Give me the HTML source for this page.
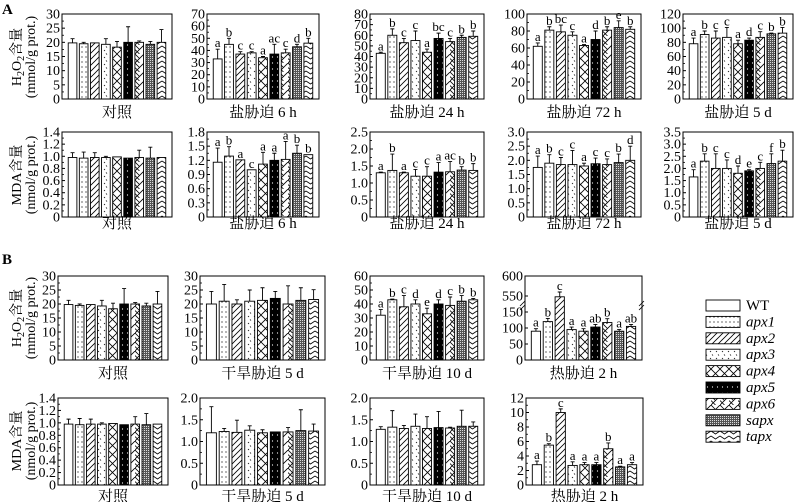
<!DOCTYPE html>
<html><head><meta charset="utf-8">
<style>
html,body{margin:0;padding:0;background:#fff;}
svg{display:block;}
svg text{font-family:"Liberation Serif","Times New Roman","Noto Serif CJK SC",serif;}
</style></head>
<body>
<svg id="fig" width="800" height="502" viewBox="0 0 800 502" xmlns="http://www.w3.org/2000/svg">
<defs>
<pattern id="p1" width="4" height="5" patternUnits="userSpaceOnUse"><rect width="4" height="5" fill="#fff"/><circle cx="2" cy="2" r="0.6" fill="#000"/></pattern>
<pattern id="p2" width="6" height="6" patternUnits="userSpaceOnUse"><rect width="6" height="6" fill="#fff"/><path d="M0,6 L6,0 M-1,1 L1,-1 M5,7 L7,5" stroke="#000" stroke-width="0.8"/></pattern>
<pattern id="p3" width="6" height="7" patternUnits="userSpaceOnUse"><rect width="6" height="7" fill="#fff"/><path d="M2,1 l1,1 M4,4.5 l1,1" stroke="#000" stroke-width="0.8"/></pattern>
<pattern id="p4" width="9" height="9" patternUnits="userSpaceOnUse"><rect width="9" height="9" fill="#fff"/><path d="M0,0 L9,9 M9,0 L0,9" stroke="#000" stroke-width="0.8"/></pattern>
<pattern id="p5" width="5" height="6" patternUnits="userSpaceOnUse"><rect width="5" height="6" fill="#000"/><circle cx="2.5" cy="3" r="0.6" fill="#fff"/></pattern>
<pattern id="p6" width="9" height="9" patternUnits="userSpaceOnUse"><rect width="9" height="9" fill="#fff"/><path d="M0,9 L9,0 M0,0 L4.5,4.5 M0,4.5 L4.5,9" stroke="#000" stroke-width="0.8"/></pattern>
<pattern id="p7" width="2" height="2" patternUnits="userSpaceOnUse"><rect width="2" height="2" fill="#555"/><rect width="1" height="1" fill="#ddd"/></pattern>
<pattern id="p8" width="9" height="5" patternUnits="userSpaceOnUse"><rect width="9" height="5" fill="#fff"/><path d="M0,1 L4.5,4 L9,1" stroke="#000" stroke-width="0.8" fill="none"/></pattern>
</defs>
<text x="2" y="14" font-size="15" font-weight="bold">A</text>
<text x="2" y="264" font-size="15" font-weight="bold">B</text>
<g id="charts"></g>
<g id="legend"></g>
</svg>
<script>
// ---- data ----
const genotypes = ["WT","apx1","apx2","apx3","apx4","apx5","apx6","sapx","tapx"];
const h2o2Ctrl = [19.8,19.5,19.8,19.3,18.3,20,20,19.3,20];
const h2o2CtrlErr = [1.5,0.5,0,2,2,5.5,0.5,1,4.5];
const salt6hH = [33,45,37,38,34,37,38,43,46];
const salt6hHErr = [8,5,2,1,1,8,3,2,4];
const salt6hHSig = ["a","b","c","c","a","ac","c","d","b"];
const salt24hH = [43,60,53,55,44,57,54,58,59];
const salt24hHErr = [1,6,4,9,3,5,3,2,5];
const salt24hHSig = ["a","b","c","c","a","bc","c","b","b"];
const salt72hH = [62,81,79,75,63,70,81,84,82];
const salt72hHErr = [4,4,8,4,1,10,4,8,3];
const salt72hHSig = ["a","b","bc","c","a","d","b","e","b"];
const salt5dH = [78,91,86,87,78,83,87,92,93];
const salt5dHErr = [8,5,10,14,5,3,8,1,8];
const salt5dHSig = ["a","b","c","c","a","d","c","b","b"];
const mdaCtrl = [0.98,0.97,0.98,0.98,0.99,0.97,0.98,0.97,0.98];
const mdaCtrlErr = [0.08,0.1,0.08,0.02,0,0,0.12,0.18,0];
const salt6hM = [1.16,1.29,1.21,1.0,1.12,1.2,1.22,1.35,1.32];
const salt6hMErr = [0.3,0.2,0,0,0.25,0.15,0.38,0.17,0];
const salt6hMSig = ["a","b","a","c","a","a","a","b","b"];
const salt24hM = [1.3,1.37,1.3,1.2,1.2,1.32,1.33,1.38,1.37];
const salt24hMErr = [0.02,0.48,0.02,0.2,0.28,0.28,0.3,0.1,0.2];
const salt24hMSig = ["a","b","a","c","c","a","ac","b","b"];
const salt72hM = [1.75,1.9,1.85,1.85,1.8,1.88,1.85,1.92,2.0];
const salt72hMErr = [0.4,0.3,0.25,0.5,0.1,0.2,0.2,0.3,0.5];
const salt72hMSig = ["a","b","c","c","a","c","c","b","d"];
const salt5dM = [1.65,2.3,2.0,2.0,1.8,1.9,2.0,2.2,2.3];
const salt5dMErr = [0.3,0.3,0.6,0.35,0.3,0.05,0.25,0.4,0.45];
const salt5dMSig = ["a","b","c","c","d","e","c","f","b"];
const dry5dH = [20,21,20,21,21.3,22,20,21.3,21.6];
const dry5dHErr = [4.5,6,1.5,4,4.5,2.5,6.5,4.5,3.5];
const dry10dH = [32,43,38,40,33,40,39,42,43];
const dry10dHErr = [4,0.5,8,3,4,3,6,4,1];
const dry10dHSig = ["a","b","c","d","e","d","c","b","b"];
const heatH = [90,120,530,95,90,103,117,90,105];
const heatHErr = [8,10,30,8,8,8,12,5,6];
const heatHSig = ["a","b","c","a","a","ab","b","a","ab"];
const dry5dM = [1.2,1.23,1.21,1.26,1.2,1.22,1.22,1.25,1.24];
const dry5dMErr = [0.6,0.07,0.28,0.1,0.07,0,0.1,0.48,0.16];
const dry10dM = [1.28,1.33,1.3,1.35,1.3,1.32,1.31,1.35,1.35];
const dry10dMErr = [0.06,0.38,0.07,0.28,0.27,0.37,0.02,0.37,0.1];
const heatM = [2.8,5.5,10,2.7,2.8,2.8,5.0,2.5,2.8];
const heatMErr = [0.5,0.2,0.5,0.5,0.3,0.3,0.8,0.1,0.3];
const heatMSig = ["a","b","c","a","a","a","b","a","a"];
const heatLowTicks = [0,50,100,150];
const heatHighTicks = [550,600];

const NS = "http://www.w3.org/2000/svg";
const root = document.getElementById("charts");
const fills = ["#fff","url(#p1)","url(#p2)","url(#p3)","url(#p4)","url(#p5)","url(#p6)","url(#p7)","url(#p8)"];
function mk(tag, attrs, parent){ const e=document.createElementNS(NS,tag); for(const k in attrs) e.setAttribute(k,attrs[k]); (parent||root).appendChild(e); return e; }

function panel(id, x0, x1, y0, y1, max, step, dec, vals, errs, sigs, title, ty, scaleFn, tickList){
  const g = mk("g", {});
  
  
  const y = scaleFn || (v => y1 - v / max * (y1 - y0));
  let ticks = tickList;
  if(!ticks){ ticks=[]; for(let v=0; v<=max+1e-9; v+=step) ticks.push(v); }
  ticks.forEach(v=>{
    const yy = y(v);
    mk("line",{x1:x0,x2:x0+3,y1:yy,y2:yy,stroke:"#000","stroke-width":1},g);
    const t = mk("text",{x:x0-2,y:yy+4.5,"text-anchor":"end","font-size":14},g);
    t.textContent = v===0 ? "0" : v.toFixed(dec);
    
    
  });
  if(!tickList){
    for(let v=step/2; v<max; v+=step){ const yy=y(v); mk("line",{x1:x0,x2:x0+2,y1:yy,y2:yy,stroke:"#000","stroke-width":0.8},g); }
  }
  const n = vals.length, pitch = (x1 - x0 - 10) / n, bw = pitch * 0.78;
  vals.forEach((v,i)=>{
    const bx = x0 + 5 + i * pitch + (pitch - bw) / 2;
    const top = y(v);
    const r = mk("rect",{x:bx,y:top,width:bw,height:y(0)-top,fill:fills[i],stroke:"#000","stroke-width":0.9},g);
    
    
    const e = errs[i], cx = bx + bw/2, ey = y(v + e);
    if(e > 0){
      const l = mk("path",{d:`M${cx},${top} L${cx},${ey} M${cx-2},${ey} L${cx+2},${ey}`,stroke:"#000","stroke-width":0.9,fill:"none"},g);
      
      
    }
    if(sigs){
      const s = mk("text",{x:cx,y:ey-2,"text-anchor":"middle","font-size":13},g);
      s.textContent = sigs[i];
      
      
    }
  });
  mk("rect",{x:x0,y:y0,width:x1-x0,height:y1-y0,fill:"none",stroke:"#000","stroke-width":1},g);
  const tt = mk("text",{x:(x0+x1)/2,y:ty,"text-anchor":"middle","font-size":15},g);
  tt.textContent = title;
  
  
  return g;
}

const A1 = [14,99], A2 = [132,217], B1 = [276,360], B2 = [398,485];
panel("panel-a-ctrl-h2o2",62,172,A1[0],A1[1],30,5,0,h2o2Ctrl,h2o2CtrlErr,null,"对照",117);
panel("panel-a-salt6h-h2o2",207,319,A1[0],A1[1],70,10,0,salt6hH,salt6hHErr,salt6hHSig,"盐胁迫 6 h",117);
panel("panel-a-salt24h-h2o2",370,484,A1[0],A1[1],80,10,0,salt24hH,salt24hHErr,salt24hHSig,"盐胁迫 24 h",117);
panel("panel-a-salt72h-h2o2",527,641,A1[0],A1[1],100,20,0,salt72hH,salt72hHErr,salt72hHSig,"盐胁迫 72 h",117);
panel("panel-a-salt5d-h2o2",683,793,A1[0],A1[1],120,20,0,salt5dH,salt5dHErr,salt5dHSig,"盐胁迫 5 d",117);
panel("panel-a-ctrl-mda",62,172,A2[0],A2[1],1.4,0.2,1,mdaCtrl,mdaCtrlErr,null,"对照",228);
panel("panel-a-salt6h-mda",207,319,A2[0],A2[1],1.8,0.3,1,salt6hM,salt6hMErr,salt6hMSig,"盐胁迫 6 h",228);
panel("panel-a-salt24h-mda",370,484,A2[0],A2[1],2.5,0.5,1,salt24hM,salt24hMErr,salt24hMSig,"盐胁迫 24 h",228);
panel("panel-a-salt72h-mda",527,641,A2[0],A2[1],3.0,0.5,1,salt72hM,salt72hMErr,salt72hMSig,"盐胁迫 72 h",228);
panel("panel-a-salt5d-mda",683,793,A2[0],A2[1],3.5,0.5,1,salt5dM,salt5dMErr,salt5dMSig,"盐胁迫 5 d",228);

panel("panel-b-ctrl-h2o2",58,168,B1[0],B1[1],30,5,0,h2o2Ctrl,h2o2CtrlErr,null,"对照",378);
panel("panel-b-dry5d-h2o2",200,325,B1[0],B1[1],30,5,0,dry5dH,dry5dHErr,null,"干旱胁迫 5 d",378);
panel("panel-b-dry10d-h2o2",370,484,B1[0],B1[1],60,10,0,dry10dH,dry10dHErr,dry10dHSig,"干旱胁迫 10 d",378);
const heatScale = v => v <= 150 ? 360 - v * 48 / 150 : (v <= 550 ? 312 - (v - 150) * 16 / 400 : 296 - (v - 550) * 20 / 50);
const hp = panel("panel-b-heat-h2o2",525,642,B1[0],B1[1],600,50,0,heatH,heatHErr,heatHSig,"热胁迫 2 h",378,heatScale,heatLowTicks.concat(heatHighTicks));
mk("path",{d:"M520,306 l5,-5 M520,310 l5,-5 M639,306 l5,-5 M639,310 l5,-5",stroke:"#000","stroke-width":0.8,fill:"none"},hp);
panel("panel-b-ctrl-mda",58,168,B2[0],B2[1],1.4,0.2,1,mdaCtrl,mdaCtrlErr,null,"对照",501);
panel("panel-b-dry5d-mda",200,325,B2[0],B2[1],2.0,0.5,1,dry5dM,dry5dMErr,null,"干旱胁迫 5 d",501);
panel("panel-b-dry10d-mda",370,484,B2[0],B2[1],2.0,0.5,1,dry10dM,dry10dMErr,null,"干旱胁迫 10 d",501);
panel("panel-b-heat-mda",526,643,B2[0],B2[1],12,2,0,heatM,heatMErr,heatMSig,"热胁迫 2 h",501);

function ytitle(cy, l1, isH){
  const g = mk("g",{});
  
  
  const t1 = mk("text",{x:0,y:0,transform:`translate(21,${cy}) rotate(-90)`,"text-anchor":"middle","font-size":14},g);
  if(isH){ t1.innerHTML = 'H<tspan font-size="10" dy="3">2</tspan><tspan dy="-3">O</tspan><tspan font-size="10" dy="3">2</tspan><tspan dy="-3">含量</tspan>'; }
  else { t1.textContent = "MDA含量"; }
  const t2 = mk("text",{x:0,y:0,transform:`translate(35,${cy}) rotate(-90)`,"text-anchor":"middle","font-size":14},g);
  t2.textContent = l1;
}
ytitle(57,"(mmol/g prot.)",true);
ytitle(175,"(nmol/g prot.)",false);
ytitle(318,"(mmol/g prot.)",true);
ytitle(441,"(nmol/g prot.)",false);

const lg = document.getElementById("legend");
genotypes.forEach((name,i)=>{
  const yy = 300 + i * 16.4;
  const r = mk("rect",{x:706,y:yy,width:34,height:11,fill:fills[i],stroke:"#000","stroke-width":0.9},lg);
  
  
  const t = mk("text",{x:746,y:yy+10,"font-size":15,"font-style":i===0?"normal":"italic"},lg);
  t.textContent = name;
  
  
});
</script>
</body></html>
